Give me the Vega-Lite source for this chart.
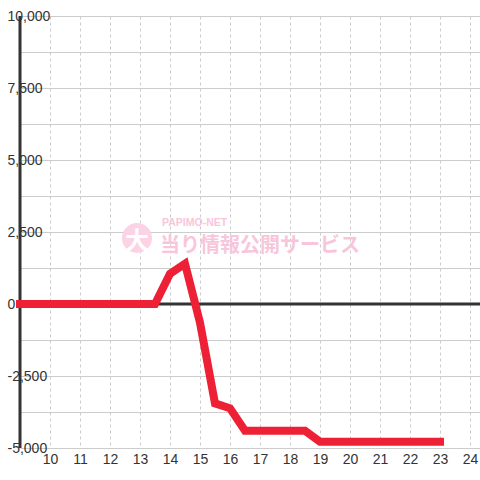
{
  "$schema": "https://vega.github.io/schema/vega-lite/v6.json",
  "width": 460,
  "height": 432,
  "autosize": {"type": "none"},
  "padding": {"left": 20, "top": 16, "right": 0, "bottom": 32},
  "background": "white",
  "config": {
    "view": {"stroke": null},
    "axis": {"labelFont": "Liberation Sans", "labelFontSize": 14, "labelColor": "#333", "title": null, "ticks": false, "tickSize": 0, "domain": false, "labelOverlap": false, "labelFlush": false, "labelBound": false}
  },
  "data": {
    "values": [
      {"hour": 9, "value": 0}, {"hour": 9.5, "value": 0}, {"hour": 10, "value": 0}, {"hour": 10.5, "value": 0},
      {"hour": 11, "value": 0}, {"hour": 11.5, "value": 0}, {"hour": 12, "value": 0}, {"hour": 12.5, "value": 0},
      {"hour": 13, "value": 0}, {"hour": 13.5, "value": 0}, {"hour": 14, "value": 1050}, {"hour": 14.5, "value": 1400},
      {"hour": 15, "value": -650}, {"hour": 15.5, "value": -3450}, {"hour": 16, "value": -3620}, {"hour": 16.5, "value": -4400},
      {"hour": 17, "value": -4400}, {"hour": 17.5, "value": -4400}, {"hour": 18, "value": -4400}, {"hour": 18.5, "value": -4400},
      {"hour": 19, "value": -4780}, {"hour": 19.5, "value": -4780}, {"hour": 20, "value": -4780}, {"hour": 20.5, "value": -4780},
      {"hour": 21, "value": -4780}, {"hour": 21.5, "value": -4780}, {"hour": 22, "value": -4780}, {"hour": 22.5, "value": -4780},
      {"hour": 23, "value": -4780}
    ]
  },
  "resolve": {"axis": {"y": "independent"}},
  "layer": [
    {
      "data": {"values": [{}]},
      "mark": {"type": "rule", "color": "#333", "strokeWidth": 3},
      "encoding": {
        "y": {
          "datum": 0, "type": "quantitative",
          "scale": {"domain": [-5000, 10000], "nice": false, "zero": false},
          "axis": {
            "orient": "left",
            "values": [-5000, -3750, -2500, -1250, 0, 1250, 2500, 3750, 5000, 6250, 7500, 8750, 10000],
            "grid": true, "gridColor": "#ccc", "gridWidth": 1, "labels": false, "zindex": 0
          }
        }
      }
    },
    {
      "data": {"values": [{}]},
      "mark": {"type": "rule", "color": "#333", "strokeWidth": 3},
      "encoding": {
        "x": {
          "datum": 9, "type": "quantitative",
          "scale": {"domain": [9, 24.333], "nice": false, "zero": false},
          "axis": {"values": [10, 11, 12, 13, 14, 15, 16, 17, 18, 19, 20, 21, 22, 23, 24], "grid": true, "gridColor": "#ccc", "gridDash": [3, 3], "gridWidth": 1, "labelPadding": 4, "format": "d", "labelOverlap": false}
        }
      }
    },
    {
      "data": {"values": [{}]},
      "mark": {"type": "point", "filled": true, "shape": "circle", "color": "#fbd3e4", "opacity": 1, "size": 900},
      "encoding": {
        "x": {"datum": 12.9, "type": "quantitative", "axis": {"values": [10, 11, 12, 13, 14, 15, 16, 17, 18, 19, 20, 21, 22, 23, 24], "grid": true, "gridColor": "#ccc", "gridDash": [3, 3], "gridWidth": 1, "labelPadding": 4, "format": "d", "labelOverlap": false}},
        "y": {"datum": 2292, "type": "quantitative", "axis": null}
      }
    },
    {
      "data": {"values": [{}]},
      "mark": {"type": "text", "text": "大", "font": "Noto Sans CJK JP", "fontWeight": "bold", "fontSize": 24, "color": "white", "align": "center", "baseline": "middle"},
      "encoding": {
        "x": {"datum": 12.9, "type": "quantitative", "axis": {"values": [10, 11, 12, 13, 14, 15, 16, 17, 18, 19, 20, 21, 22, 23, 24], "grid": true, "gridColor": "#ccc", "gridDash": [3, 3], "gridWidth": 1, "labelPadding": 4, "format": "d", "labelOverlap": false}},
        "y": {"datum": 2150, "type": "quantitative", "axis": null}
      }
    },
    {
      "data": {"values": [{}]},
      "mark": {"type": "text", "text": "当り情報公開サービス", "font": "Noto Sans CJK JP", "fontWeight": "bold", "fontSize": 20, "color": "#f8c6db", "align": "left", "baseline": "middle"},
      "encoding": {
        "x": {"datum": 13.667, "type": "quantitative", "axis": {"values": [10, 11, 12, 13, 14, 15, 16, 17, 18, 19, 20, 21, 22, 23, 24], "grid": true, "gridColor": "#ccc", "gridDash": [3, 3], "gridWidth": 1, "labelPadding": 4, "format": "d", "labelOverlap": false}},
        "y": {"datum": 2014, "type": "quantitative", "axis": null}
      }
    },
    {
      "data": {"values": [{}]},
      "mark": {"type": "text", "text": "PAPIMO-NET", "font": "Liberation Sans", "fontWeight": "bold", "fontSize": 10.5, "color": "#f8c6db", "align": "left", "baseline": "middle"},
      "encoding": {
        "x": {"datum": 13.733, "type": "quantitative", "axis": {"values": [10, 11, 12, 13, 14, 15, 16, 17, 18, 19, 20, 21, 22, 23, 24], "grid": true, "gridColor": "#ccc", "gridDash": [3, 3], "gridWidth": 1, "labelPadding": 4, "format": "d", "labelOverlap": false}},
        "y": {"datum": 2800, "type": "quantitative", "axis": null}
      }
    },
    {
      "mark": {"type": "line", "color": "#ed2035", "strokeWidth": 8, "strokeCap": "square", "strokeJoin": "miter"},
      "encoding": {
        "x": {
          "field": "hour", "type": "quantitative",
          "axis": {"values": [10, 11, 12, 13, 14, 15, 16, 17, 18, 19, 20, 21, 22, 23, 24], "grid": true, "gridColor": "#ccc", "gridDash": [3, 3], "gridWidth": 1, "labelPadding": 4, "format": "d", "labelOverlap": false}
        },
        "y": {
          "field": "value", "type": "quantitative",
          "axis": {
            "orient": "left",
            "values": [-5000, -2500, 0, 2500, 5000, 7500, 10000],
            "grid": false, "labelAlign": "left", "labelPadding": 13, "zindex": 1,
            "labelExpr": "replace(format(datum.value, ','), '\u2212', '-')"
          }
        }
      }
    }
  ]
}
